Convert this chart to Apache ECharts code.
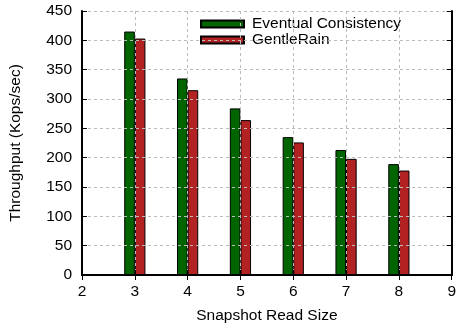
<!DOCTYPE html>
<html>
<head>
<meta charset="utf-8">
<script src="https://cdn.jsdelivr.net/npm/echarts@6/dist/echarts.min.js"></script>
<style>
  html, body { margin: 0; padding: 0; background: #fff; }
  #chart { width: 459px; height: 329px; }
</style>
</head>
<body>
<div id="chart"></div>
<script>
// Snapshot read sizes on the x axis
const readSizes = [3, 4, 5, 6, 7, 8];
// Throughput in Kops/sec
const eventualConsistency = [415, 335, 284, 235, 213, 189];
const gentleRain = [403, 315, 264, 226, 198, 178];

const seriesNames = ['Eventual Consistency', 'GentleRain'];

const FONT = '"Liberation Sans", Arial, Helvetica, sans-serif';
const FS = 15.5;

const chart = echarts.init(document.getElementById('chart'), null, { renderer: 'canvas' });

const pairs = (vals) => readSizes.map((x, i) => [x, vals[i]]);

const sharedX = { type: 'value', min: 2, max: 9, interval: 1 };
const sharedY = { type: 'value', min: 0, max: 450, interval: 50 };

chart.setOption({
  animation: false,
  textStyle: { fontFamily: FONT },
  grid: { left: 81, right: 6, top: 11, bottom: 53, containLabel: false },
  legend: {
    orient: 'vertical',
    left: 192,
    top: 14,
    padding: [2, 40, 1, 8],
    itemGap: 0,
    itemWidth: 43,
    itemHeight: 7,
    icon: 'rect',
    backgroundColor: '#fff',
    textStyle: { fontFamily: FONT, fontSize: FS, color: '#000', padding: [0, 0, 0, 3] },
    data: seriesNames
  },
  xAxis: [
    Object.assign({}, sharedX, {
      position: 'bottom',
      z: 5,
      name: 'Snapshot Read Size',
      nameLocation: 'middle',
      nameGap: 33,
      nameTextStyle: { fontFamily: FONT, fontSize: FS, color: '#000' },
      axisLine: { show: true, lineStyle: { color: '#000', width: 2 } },
      axisTick: { show: true, inside: true, length: 5, lineStyle: { color: '#000', width: 1 } },
      axisLabel: { margin: 9, fontFamily: FONT, fontSize: FS, color: '#000' },
      splitLine: { show: true, lineStyle: { color: '#bbb', type: [3, 3], width: 1 } }
    }),
    Object.assign({}, sharedX, {
      position: 'top',
      z: 5,
      axisLine: { show: true, lineStyle: { color: '#000', width: 2 } },
      axisTick: { show: true, inside: true, length: 5, lineStyle: { color: '#000', width: 1 } },
      axisLabel: { show: false },
      splitLine: { show: false }
    })
  ],
  yAxis: [
    Object.assign({}, sharedY, {
      position: 'left',
      z: 5,
      name: 'Throughput (Kops/sec)',
      nameLocation: 'middle',
      nameGap: 58,
      nameRotate: 90,
      nameTextStyle: { fontFamily: FONT, fontSize: FS, color: '#000' },
      axisLine: { show: true, lineStyle: { color: '#000', width: 2 } },
      axisTick: { show: true, inside: true, length: 5, lineStyle: { color: '#000', width: 1 } },
      axisLabel: { margin: 10, fontFamily: FONT, fontSize: FS, color: '#000' },
      splitLine: { show: true, lineStyle: { color: '#bbb', type: [3, 3], width: 1 } }
    }),
    Object.assign({}, sharedY, {
      position: 'right',
      z: 5,
      axisLine: { show: true, lineStyle: { color: '#000', width: 2 } },
      axisTick: { show: true, inside: true, length: 5, lineStyle: { color: '#000', width: 1 } },
      axisLabel: { show: false },
      splitLine: { show: false }
    })
  ],
  series: [
    {
      name: seriesNames[0],
      type: 'bar',
      xAxisIndex: 0,
      yAxisIndex: 0,
      barWidth: 10.6,
      barGap: '0%',
      itemStyle: { color: '#006400', borderColor: '#000', borderWidth: 1 },
      data: pairs(eventualConsistency)
    },
    {
      name: seriesNames[1],
      type: 'bar',
      xAxisIndex: 0,
      yAxisIndex: 0,
      barWidth: 10.6,
      barGap: '0%',
      itemStyle: { color: '#b22222', borderColor: '#000', borderWidth: 1 },
      data: pairs(gentleRain)
    }
  ]
});
</script>
</body>
</html>
